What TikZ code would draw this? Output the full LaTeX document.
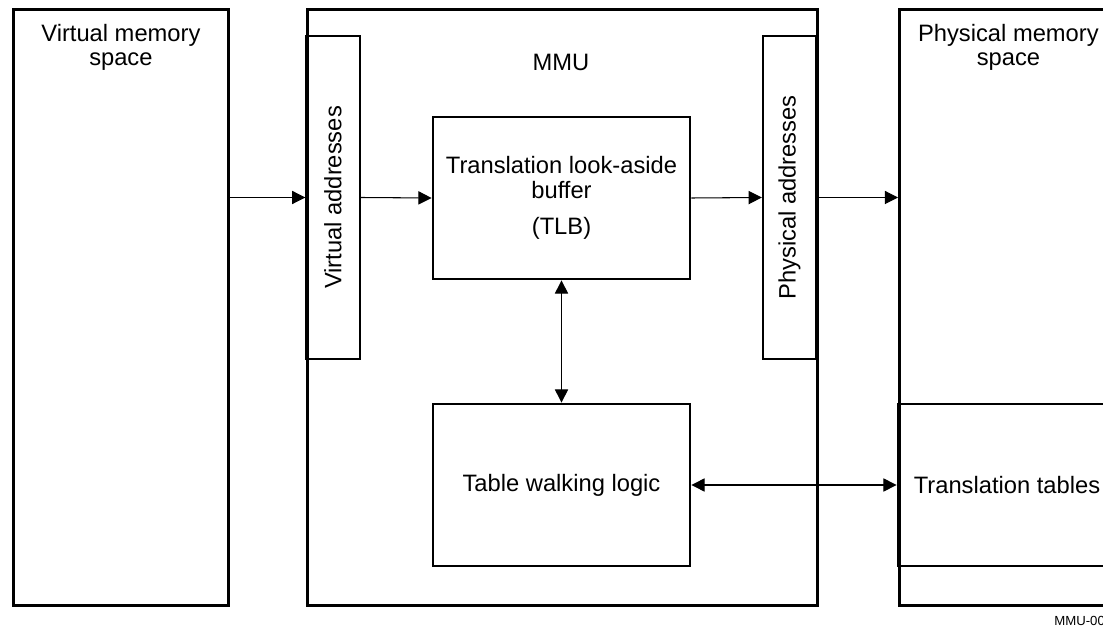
\documentclass[tikz,border=0pt]{standalone}
\usepackage{fontspec}
\setmainfont{Liberation Sans}
\usetikzlibrary{arrows.meta}

\begin{document}
\begin{tikzpicture}[>={Triangle[length=7.5pt,width=7.5pt]},
    caja/.style={draw, line width=1.6pt, inner sep=0pt},
    franja/.style={draw, line width=1.1pt, inner sep=0pt, rotate=90,
        minimum width=6.46cm, minimum height=1.07cm},
    texto/.style={align=center, inner sep=0pt, font=\fontsize{13.5}{14}\selectfont},
    flecha/.style={line width=0.6pt}]

\useasboundingbox (0,0) rectangle (22.06,-12.54);

% Cajas grandes
\node[caja, anchor=north west, minimum width=4.30cm, minimum height=11.92cm]
    (virt) at (0.24,-0.16) {};
\node[caja, anchor=north west, minimum width=10.20cm, minimum height=11.92cm]
    (mmu) at (6.12,-0.16) {};
\node[caja, anchor=north west, minimum width=4.36cm, minimum height=11.92cm]
    (phys) at (17.96,-0.16) {};

% Textos de las cajas grandes
\node[texto, anchor=north] (virtlbl) at ([yshift=-0.31cm]virt.north) {Virtual memory\\space};
\node[texto] (mmulbl) at (11.22,-1.24) {MMU};
\node[texto, anchor=north] (physlbl) at ([yshift=-0.31cm]phys.north) {Physical memory\\space};

% Dentro de la MMU
\node[franja, texto] (va) at (6.66,-3.95) {Virtual addresses};
\node[franja, texto] (pa) at (15.79,-3.95) {Physical addresses};
\node[caja, texto, minimum width=5.14cm, minimum height=3.24cm] (tlb) at (11.23,-3.96)
    {Translation look-aside\\buffer\\[6.6pt](TLB)};
\node[caja, texto, minimum width=5.14cm, minimum height=3.24cm] (twl) at (11.23,-9.70)
    {Table walking logic};

% Tablas en memoria fisica
\node[caja, texto, minimum width=4.36cm, minimum height=3.24cm] (tablas) at (20.14,-9.70)
    {Translation tables};

% Flechas
\draw[flecha, ->] (virt.east |- va.north) -- (va.north);
\draw[flecha, ->] (va.south) -- (tlb.west);
\draw[flecha, ->] (tlb.east) -- (pa.north);
\draw[flecha, ->] (pa.south) -- (phys.west |- pa.south);
\draw[flecha, <->] (tlb.south) -- (twl.north);
\draw[flecha, <->] (twl.east) -- (tablas.west);

\node[anchor=base west, inner sep=0pt, font=\fontsize{7.5}{8}\selectfont] (ref) at (21.08,-12.50) {MMU-00};

\end{tikzpicture}
\end{document}
